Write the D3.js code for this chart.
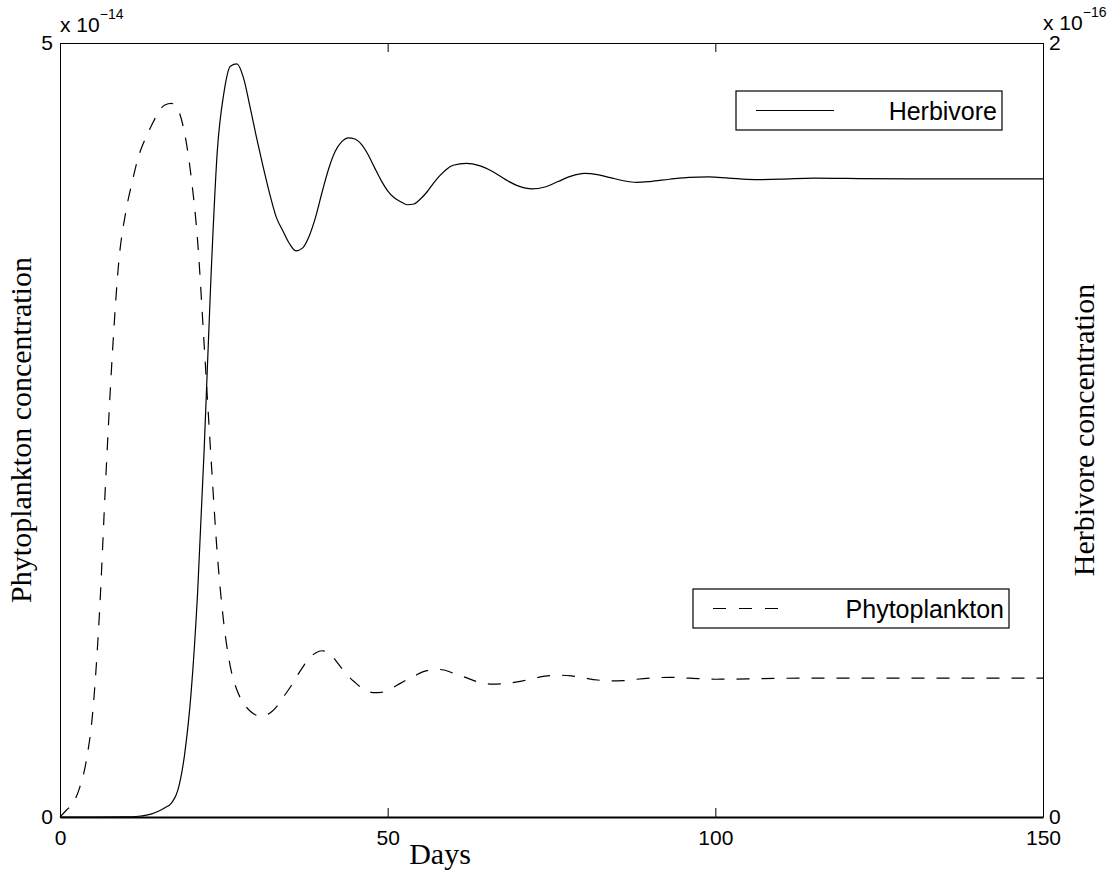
<!DOCTYPE html>
<html>
<head>
<meta charset="utf-8">
<script src="https://cdn.jsdelivr.net/npm/d3@7"></script>
<style>
  html, body { margin: 0; padding: 0; background: #fff; }
  svg { display: block; }
</style>
</head>
<body>
<svg id="chart" width="1117" height="882"></svg>
<script>
// ---- Data ----
const herbDays = [0,5,10,12,13,14,15,16,17,18,19,20,21,22,23,24,25,26,27,28,29,30,31,32,33,34,35,36,37,38,39,40,41,42,43,44,45,46,47,48,49,50,51,52,53,54,55,56,57,58,59,60,62,64,66,68,70,72,74,76,78,80,82,84,86,88,90,93,96,99,102,106,110,115,120,130,140,150];
const herbivore = [0,0,0.0005,0.002,0.004,0.008,0.015,0.024,0.036,0.07,0.16,0.32,0.58,0.95,1.38,1.72,1.87,1.94,1.946,1.91,1.835,1.755,1.68,1.61,1.55,1.515,1.482,1.463,1.47,1.50,1.55,1.615,1.675,1.72,1.745,1.755,1.752,1.738,1.712,1.678,1.645,1.618,1.60,1.59,1.582,1.584,1.597,1.615,1.638,1.658,1.674,1.684,1.689,1.683,1.668,1.647,1.630,1.623,1.628,1.642,1.656,1.663,1.66,1.652,1.644,1.640,1.642,1.648,1.653,1.654,1.651,1.647,1.648,1.651,1.65,1.649,1.649,1.649];

const phytoDays = [0,1,2,3,4,5,6,7,8,9,10,11,12,13,14,15,16,17,18,19,20,21,22,23,24,25,26,27,28,29,30,31,32,33,34,35,36,37,38,39,40,41,42,43,44,45,46,47,48,49,50,52,54,56,58,60,62,64,66,68,70,72,74,76,78,80,82,84,86,88,90,93,96,100,105,110,120,130,140,150];
const phytoplankton = [0,0.045,0.09,0.19,0.36,0.68,1.30,2.2,3.0,3.6,3.9,4.1,4.27,4.38,4.47,4.55,4.6,4.61,4.57,4.42,4.14,3.72,3.05,2.35,1.7,1.25,0.97,0.82,0.735,0.685,0.657,0.652,0.67,0.71,0.77,0.83,0.9,0.965,1.025,1.06,1.074,1.06,1.015,0.96,0.91,0.87,0.835,0.812,0.803,0.805,0.818,0.865,0.91,0.945,0.953,0.93,0.9,0.87,0.858,0.862,0.874,0.893,0.91,0.916,0.912,0.898,0.885,0.879,0.881,0.89,0.897,0.902,0.897,0.89,0.892,0.896,0.897,0.897,0.897,0.897];

const xTicks = [0, 50, 100, 150];
const leftTicks = [0, 5];
const rightTicks = [0, 2];
const leftExponent = "\u221214";
const rightExponent = "\u221216";
const seriesNames = ["Herbivore", "Phytoplankton"];

// ---- Layout ----
const svg = d3.select("#chart");
const L = 60, R = 1043, T = 43, B = 817;
const sans = "'Liberation Sans', Arial, Helvetica, sans-serif";
const serif = "'Liberation Serif', 'Times New Roman', serif";

const x = d3.scaleLinear().domain([0, 150]).range([L, R]);
const yL = d3.scaleLinear().domain([0, 5]).range([B, T]);
const yR = d3.scaleLinear().domain([0, 2]).range([B, T]);

svg.append("rect").attr("width", 1117).attr("height", 882).attr("fill", "#fff");

// Axes (ticks inside, MATLAB style)
const tickLen = 9;
const fmt = d3.format("d");
const gx = svg.append("g").attr("transform", `translate(0,${B})`)
  .call(d3.axisBottom(x).tickValues(xTicks).tickFormat(fmt).tickSizeInner(-tickLen).tickSizeOuter(0).tickPadding(13));
const gxTop = svg.append("g").attr("transform", `translate(0,${T})`)
  .call(d3.axisTop(x).tickValues(xTicks).tickSizeInner(-tickLen).tickSizeOuter(0).tickFormat(""));
const gl = svg.append("g").attr("transform", `translate(${L},0)`)
  .call(d3.axisLeft(yL).tickValues(leftTicks).tickFormat(fmt).tickSizeInner(-tickLen).tickSizeOuter(0).tickPadding(7));
const gr = svg.append("g").attr("transform", `translate(${R},0)`)
  .call(d3.axisRight(yR).tickValues(rightTicks).tickFormat(fmt).tickSizeInner(-tickLen).tickSizeOuter(0).tickPadding(6));

[gx, gxTop, gl, gr].forEach(g => {
  g.select(".domain").attr("stroke", "#000").attr("stroke-width", 1);
  g.selectAll(".tick line").attr("stroke", "#000").attr("stroke-width", 1);
  g.selectAll("text").attr("fill", "#000").attr("font-family", sans).attr("font-size", 21);
});
gx.select(".domain").attr("stroke-width", 2);

// Curves
const herbData = herbDays.map((d, i) => [d, herbivore[i]]);
const phytoData = phytoDays.map((d, i) => [d, phytoplankton[i]]);

svg.append("path")
  .attr("d", d3.line().x(d => x(d[0])).y(d => yR(d[1])).curve(d3.curveMonotoneX)(herbData))
  .attr("fill", "none").attr("stroke", "#000").attr("stroke-width", 1.2);

svg.append("path")
  .attr("d", d3.line().x(d => x(d[0])).y(d => yL(d[1])).curve(d3.curveMonotoneX)(phytoData))
  .attr("fill", "none").attr("stroke", "#000").attr("stroke-width", 1.2)
  .attr("stroke-dasharray", "13,12");

// Exponent labels
function expLabel(xp, yp, exp) {
  const t = svg.append("text").attr("x", xp).attr("y", yp)
    .attr("font-family", sans).attr("font-size", 21).attr("fill", "#000");
  t.append("tspan").text("x 10");
  t.append("tspan").attr("dy", -13).attr("font-size", 14).text(exp);
}
expLabel(L, 32, leftExponent);
expLabel(R, 30, rightExponent);

// Axis titles
svg.append("text").attr("x", 440).attr("y", 864).attr("text-anchor", "middle")
  .attr("font-family", serif).attr("font-size", 30).attr("fill", "#000").text("Days");
svg.append("text").attr("transform", `translate(31,${(T + B) / 2}) rotate(-90)`)
  .attr("text-anchor", "middle").attr("font-family", serif).attr("font-size", 30)
  .attr("fill", "#000").text("Phytoplankton concentration");
svg.append("text").attr("transform", `translate(1094,${(T + B) / 2}) rotate(-90)`)
  .attr("text-anchor", "middle").attr("font-family", serif).attr("font-size", 30)
  .attr("fill", "#000").text("Herbivore concentration");

// Legends
function legend(x0, y0, w, h, dashed, label) {
  const g = svg.append("g");
  g.append("rect").attr("x", x0).attr("y", y0).attr("width", w).attr("height", h)
    .attr("fill", "#fff").attr("stroke", "#000").attr("stroke-width", 1.2);
  g.append("line").attr("x1", x0 + 20).attr("x2", x0 + 98)
    .attr("y1", y0 + h / 2).attr("y2", y0 + h / 2)
    .attr("stroke", "#000").attr("stroke-width", 1.2)
    .attr("stroke-dasharray", dashed ? "13,13" : null);
  g.append("text").attr("x", x0 + w - 5).attr("y", y0 + h / 2 + 9)
    .attr("text-anchor", "end").attr("font-family", sans).attr("font-size", 25)
    .attr("fill", "#000").text(label);
}
legend(736, 91, 266, 39, false, seriesNames[0]);
legend(693, 589, 316, 39, true, seriesNames[1]);
</script>
</body>
</html>
